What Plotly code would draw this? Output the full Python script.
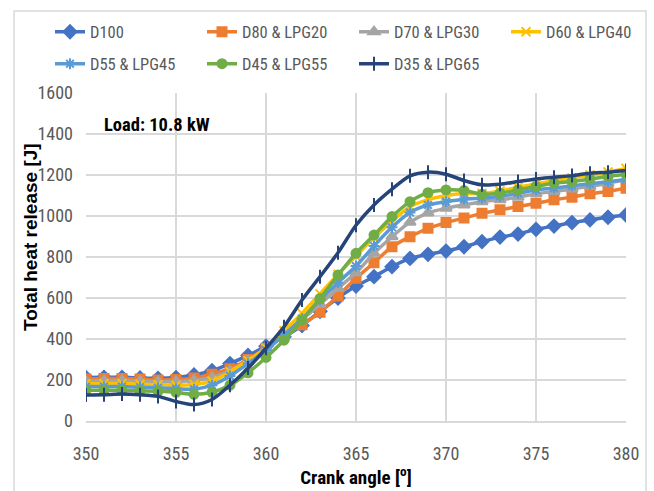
import plotly.graph_objects as go

crank_angle = list(range(350, 381))

d100 = [212, 213, 213, 210, 208, 212, 225, 245, 280, 320, 365, 411, 466, 535, 600, 658,
        704, 753, 793, 813, 829, 850, 875, 897, 912, 935, 951, 968, 981, 994, 1005]
d80_lpg20 = [205, 207, 207, 205, 200, 202, 210, 228, 255, 300, 355, 415, 470, 530, 610, 696,
             772, 850, 899, 940, 968, 990, 1013, 1030, 1046, 1062, 1079, 1092, 1108, 1120, 1135]
d70_lpg30 = [195, 197, 197, 195, 192, 193, 198, 212, 245, 295, 355, 425, 495, 570, 648, 723,
             818, 899, 970, 1015, 1038, 1054, 1070, 1079, 1092, 1108, 1120, 1132, 1145, 1160, 1178]
d60_lpg40 = [182, 183, 183, 180, 177, 175, 178, 195, 240, 295, 355, 440, 525, 620, 715, 805,
             895, 975, 1045, 1080, 1100, 1110, 1110, 1122, 1140, 1158, 1172, 1186, 1200, 1215, 1232]
d55_lpg45 = [168, 168, 168, 165, 162, 158, 155, 175, 220, 280, 345, 420, 500, 590, 675, 756,
             854, 945, 1017, 1054, 1070, 1082, 1087, 1095, 1111, 1127, 1136, 1147, 1157, 1167, 1178]
d45_lpg55 = [150, 150, 150, 148, 145, 140, 130, 140, 175, 235, 310, 394, 492, 598, 712, 818,
             907, 997, 1070, 1114, 1127, 1124, 1106, 1111, 1127, 1144, 1160, 1168, 1180, 1193, 1204]
d35_lpg65 = [127, 128, 132, 128, 120, 95, 80, 105, 175, 258, 355, 460, 590, 704, 821, 955,
             1054, 1131, 1196, 1214, 1204, 1173, 1152, 1155, 1168, 1181, 1189, 1197, 1209, 1214, 1222]

series_names = ["D100", "D80 & LPG20", "D70 & LPG30", "D60 & LPG40",
                "D55 & LPG45", "D45 & LPG55", "D35 & LPG65"]
series_values = [d100, d80_lpg20, d70_lpg30, d60_lpg40, d55_lpg45, d45_lpg55, d35_lpg65]
colors = ["#4472C4", "#ED7D31", "#A5A5A5", "#FFC000", "#5B9BD5", "#70AD47", "#264478"]
symbols = ["diamond", "square", "triangle-up", "x-thin", "asterisk", "circle", "line-ns"]
sizes = [10, 9, 10, 9, 9, 9, 10]
legend_ids = ["legend", "legend", "legend", "legend", "legend2", "legend2", "legend2"]

y_ticks = [0, 200, 400, 600, 800, 1000, 1200, 1400, 1600]
x_ticks = [350, 355, 360, 365, 370, 375, 380]

FONT = "Roboto Condensed, Liberation Sans Narrow, sans-serif"

fig = go.Figure()
for name, vals, col, sym, sz, lg in zip(series_names, series_values, colors, symbols, sizes, legend_ids):
    fig.add_trace(go.Scatter(
        x=crank_angle, y=vals, name=name, mode="lines+markers", legend=lg,
        line=dict(color=col, width=3.5, shape="spline", smoothing=0.8),
        marker=dict(symbol=sym, size=sz, color=col, line=dict(color=col, width=2)),
    ))

L, R, T, B = 86, 28, 93, 70
W, H = 654, 491
pw, ph = W - L - R, H - T - B

def px_x(p):
    return (p - L) / pw

def px_y(p):
    return (H - B - p) / ph

legend_common = dict(
    orientation="h", xanchor="left", yanchor="middle",
    entrywidth=107, entrywidthmode="pixels",
    font=dict(family=FONT, size=16.5, color="#595959"),
    bgcolor="rgba(0,0,0,0)", traceorder="normal", itemwidth=30,
)

fig.update_layout(
    width=W, height=H,
    margin=dict(l=L, r=R, t=T, b=B, autoexpand=False),
    paper_bgcolor="white", plot_bgcolor="white",
    font=dict(family=FONT, size=17, color="#595959"),
    showlegend=True,
    legend=dict(x=px_x(50), y=px_y(32), **legend_common),
    legend2=dict(x=px_x(50), y=px_y(64), **legend_common),
    xaxis=dict(
        range=[350, 380], tickvals=x_ticks, ticktext=[str(v) for v in x_ticks],
        showgrid=True, gridcolor="#D9D9D9", gridwidth=1.5,
        showline=True, linecolor="#D9D9D9", linewidth=1.5,
        zeroline=False, ticks="", ticklabelstandoff=16,
        tickfont=dict(family=FONT, size=18, color="#595959"),
        title=dict(text="Crank angle [<sup>o</sup>]", standoff=4,
                   font=dict(family=FONT, size=19, color="#000000", weight="bold")),
    ),
    yaxis=dict(
        range=[0, 1600], tickvals=y_ticks, ticktext=[str(v) for v in y_ticks],
        showgrid=True, gridcolor="#D9D9D9", gridwidth=1.5,
        showline=False, zeroline=False, ticks="", ticklabelstandoff=12,
        tickfont=dict(family=FONT, size=18, color="#595959"),
    ),
    annotations=[
        dict(text="<b>Load: 10.8 kW</b>", xref="paper", yref="paper",
             x=px_x(102), y=px_y(125), xanchor="left", yanchor="middle",
             showarrow=False, font=dict(family=FONT, size=18.5, color="#000000")),
        dict(text="<b>Total heat release [J]</b>", xref="paper", yref="paper",
             x=px_x(31), y=px_y(237), xanchor="center", yanchor="middle", textangle=-90,
             showarrow=False,
             font=dict(family="Liberation Sans, Arial, sans-serif", size=19, color="#000000")),
    ],
    shapes=[dict(
        type="rect", xref="paper", yref="paper",
        x0=px_x(14), x1=px_x(646), y0=px_y(520), y1=px_y(11),
        line=dict(color="#D9D9D9", width=1.5), fillcolor="rgba(0,0,0,0)", layer="below",
    )],
)

fig.write_html("out.html")
